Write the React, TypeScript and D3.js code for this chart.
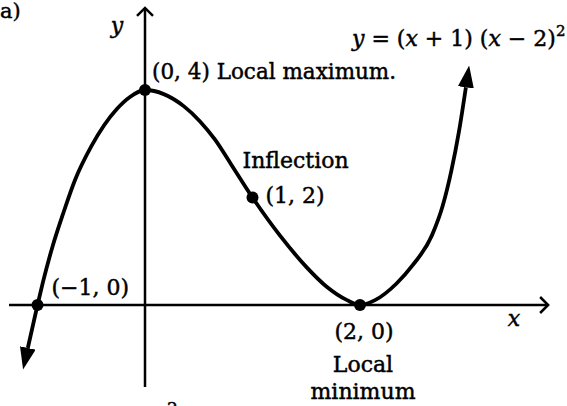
import React from 'react';
import * as d3 from 'd3';

// curve (data units)
const curveX = [-1.09, -1, -0.95, -0.86, -0.76, -0.65, -0.5, -0.26, -0.14, 0, 0.36, 0.51, 0.65, 0.8, 1, 1.26, 1.5, 1.69, 1.88, 2, 2.14, 2.34, 2.49, 2.67, 2.77, 2.85, 2.92, 2.985];
const curveY = [-0.8, 0, 0.42, 1.09, 1.71, 2.33, 2.95, 3.65, 3.87, 4, 3.7, 3.42, 3.08, 2.62, 2, 1.28, 0.71, 0.34, 0.09, 0, 0.09, 0.4, 0.74, 1.3, 1.85, 2.5, 3.22, 4.05];

// marked points
const pointX = [-1, 0, 1, 2];
const pointY = [0, 4, 2, 0];
const pointLabels = ['(−1, 0)', '(0, 4) Local maximum.', '(1, 2)', '(2, 0)'];

const minLabels = ['Local', 'minimum'];
const inflectionLabel = 'Inflection';

// axis extents
const xAxisRange = [-1.265, 3.75];
const yAxisRange = [-1.526, 5.526];

const W = 567;
const H = 406;
const FONT = '"DejaVu Serif", serif';

export default function App() {
  const x = d3.scaleLinear().domain([-1, 2]).range([37.5, 360]);
  const y = d3.scaleLinear().domain([0, 4]).range([305, 90]);

  const pts: [number, number][] = curveX.map((v, i) => [v, curveY[i]]);
  const line = d3.line<[number, number]>()
    .x(d => x(d[0]))
    .y(d => y(d[1]))
    .curve(d3.curveMonotoneX);

  const ax0 = x(xAxisRange[0]);
  const ax1 = x(xAxisRange[1]);
  const ay0 = y(yAxisRange[0]);
  const ay1 = y(yAxisRange[1]);
  const ox = x(0);
  const oy = y(0);

  const p = pointX.map((v, i) => ({ px: x(v), py: y(pointY[i]) }));

  return (
    <svg width={W} height={H} style={{ position: 'absolute', left: 0, top: 0, background: '#fff' }}
      fontFamily={FONT} fontSize={22} fill="#000">
      <defs>
        <marker id="head" viewBox="0 -8 22 16" refX={0} refY={0} markerWidth={22} markerHeight={16}
          markerUnits="userSpaceOnUse" orient="auto-start-reverse">
          <path d="M0,-8L22,0L0,8Z" fill="#000" />
        </marker>
      </defs>

      {/* axes */}
      <g stroke="#000" strokeWidth={2.5} fill="none">
        <line x1={ax0} y1={oy} x2={ax1} y2={oy} />
        <path d={`M${ax1 - 8},${oy - 8}L${ax1},${oy}L${ax1 - 8},${oy + 8}`} />
        <line x1={ox} y1={ay0} x2={ox} y2={ay1} />
        <path d={`M${ox - 8},${ay1 + 8}L${ox},${ay1}L${ox + 8},${ay1 + 8}`} />
      </g>

      {/* curve */}
      <path d={line(pts) || ''} fill="none" stroke="#000" strokeWidth={3.8}
        markerStart="url(#head)" markerEnd="url(#head)" />

      {p.map((d, i) => <circle key={i} cx={d.px} cy={d.py} r={6} fill="#000" />)}

      <g stroke="#000" strokeWidth={0.45}>
        {/* point labels */}
        <text x={p[0].px + 14} y={p[0].py - 10}>{pointLabels[0]}</text>
        <text x={p[1].px + 7} y={p[1].py - 11} fontSize={21.5}>{pointLabels[1]}</text>
        <text x={p[2].px - 10} y={p[2].py - 30}>{inflectionLabel}</text>
        <text x={p[2].px + 13} y={p[2].py + 5}>{pointLabels[2]}</text>
        <text x={p[3].px + 4} y={p[3].py + 34} textAnchor="middle">{pointLabels[3]}</text>
        <text x={p[3].px + 3} y={p[3].py + 67} textAnchor="middle">{minLabels[0]}</text>
        <text x={p[3].px + 3} y={p[3].py + 94} textAnchor="middle">{minLabels[1]}</text>

        {/* axis labels */}
        <text x={117} y={33} textAnchor="middle" fontStyle="italic">y</text>
        <text x={514} y={326} textAnchor="middle" fontStyle="italic">x</text>

        {/* equation */}
        <text x={352} y={46}>
          <tspan fontStyle="italic">y</tspan>
          <tspan> = (</tspan>
          <tspan fontStyle="italic">x</tspan>
          <tspan> + 1) (</tspan>
          <tspan fontStyle="italic">x</tspan>
          <tspan> − 2)</tspan>
          <tspan fontSize={15} dy={-10}>2</tspan>
        </text>

        <text x={0} y={18} fontSize={21}>a)</text>
        <text x={167} y={414} fontSize={17}>2</text>
      </g>
    </svg>
  );
}
